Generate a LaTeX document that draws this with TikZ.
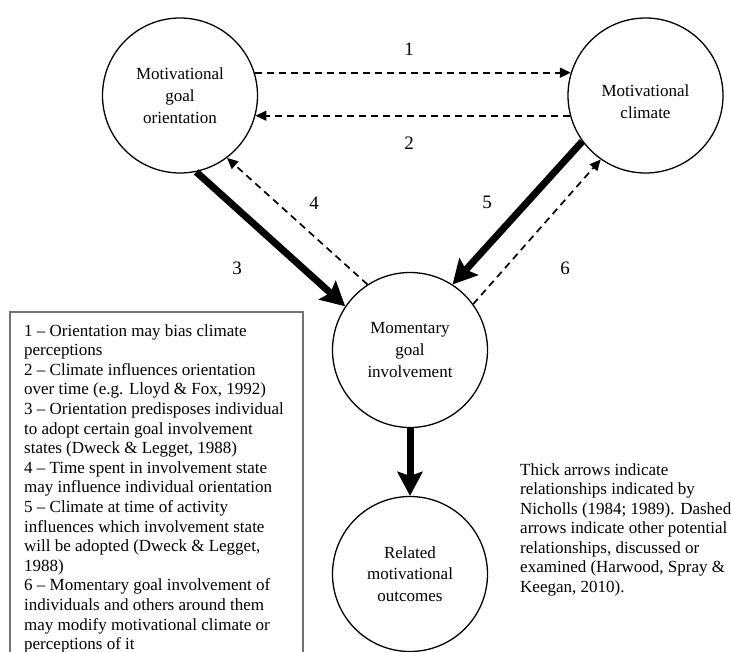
\documentclass[tikz,border=0pt]{standalone}
\usepackage{fontspec}
\setmainfont{Liberation Serif}
\usetikzlibrary{arrows.meta}
\begin{document}
\begin{tikzpicture}[x=1pt,y=-1pt,
  ball/.style={draw, circle, line width=1.3pt, minimum size=155pt, inner sep=0pt,
    align=center, font=\fontsize{17}{21.7}\selectfont},
  ctext/.style={align=center, inner sep=0pt, font=\fontsize{17}{21.7}\selectfont},
  thickarrow/.style={line width=7pt, -{Stealth[length=24pt,width=25pt,inset=4pt]}},
  dasharrow/.style={line width=1.7pt, dash pattern=on 7pt off 5pt,
    -{Triangle[length=11pt,width=10pt]}},
  numlabel/.style={font=\fontsize{19}{22}\selectfont, inner sep=0pt},
  note/.style={align=left, inner sep=0pt, anchor=north west,
    font=\fontsize{17}{19.6}\selectfont},
  keybox/.style={draw=black!55, line width=1.2pt}
]
\useasboundingbox (0,0) rectangle (731,651);
\clip (0,0) rectangle (731,651);

% the four constructs
\node[ball] (A) at (180,95.5) {Motivational\\goal\\orientation};
\node[ball] (B) at (645.5,95.5) {};
\node[ctext, yshift=-6.5pt] (Btext) at (B) {Motivational\\climate};
\node[ball] (C) at (410,350) {Momentary\\goal\\involvement};
\node[ball] (D) at (410,574) {Related\\motivational\\outcomes};

% relationships
\draw[dasharrow] (A.17) -- (B.163);
\draw[dasharrow] (B.195) -- (A.-15);
\draw[thickarrow] (A.-78.6) -- (C.146.5);
\draw[dasharrow] (C.123.9) -- (A.-53.8);
\draw[thickarrow] (B.216.2) -- (C.57.3);
\draw[dasharrow] (C.36.7) -- (B.235);
\draw[thickarrow] (C.south) -- (D.north);

% relationship numbers
\node[numlabel] (n1) at (409,49) {1};
\node[numlabel] (n2) at (409,143) {2};
\node[numlabel] (n3) at (237,268) {3};
\node[numlabel] (n4) at (314,203) {4};
\node[numlabel] (n5) at (487,202) {5};
\node[numlabel] (n6) at (565,268) {6};

% key to the numbered relationships
\draw[keybox] (10,312) rectangle (303,680);
\node[note] (key) at (24,324) {%
1 -- Orientation may bias climate\\
perceptions\\
2 -- Climate influences orientation\\
over time (e.g. Lloyd \& Fox, 1992)\\
3 -- Orientation predisposes individual\\
to adopt certain goal involvement\\
states (Dweck \& Legget, 1988)\\
4 -- Time spent in involvement state\\
may influence individual orientation\\
5 -- Climate at time of activity\\
influences which involvement state\\
will be adopted (Dweck \& Legget,\\
1988)\\
6 -- Momentary goal involvement of\\
individuals and others around them\\
may modify motivational climate or\\
perceptions of it};

% explanation of arrow styles
\node[note, font=\fontsize{17}{19.5}\selectfont] (legend) at (520,463.4) {%
Thick arrows indicate\\
relationships indicated by\\
Nicholls (1984; 1989). Dashed\\
arrows indicate other potential\\
relationships, discussed or\\
examined (Harwood, Spray \&\\
Keegan, 2010).};
\end{tikzpicture}
\end{document}
